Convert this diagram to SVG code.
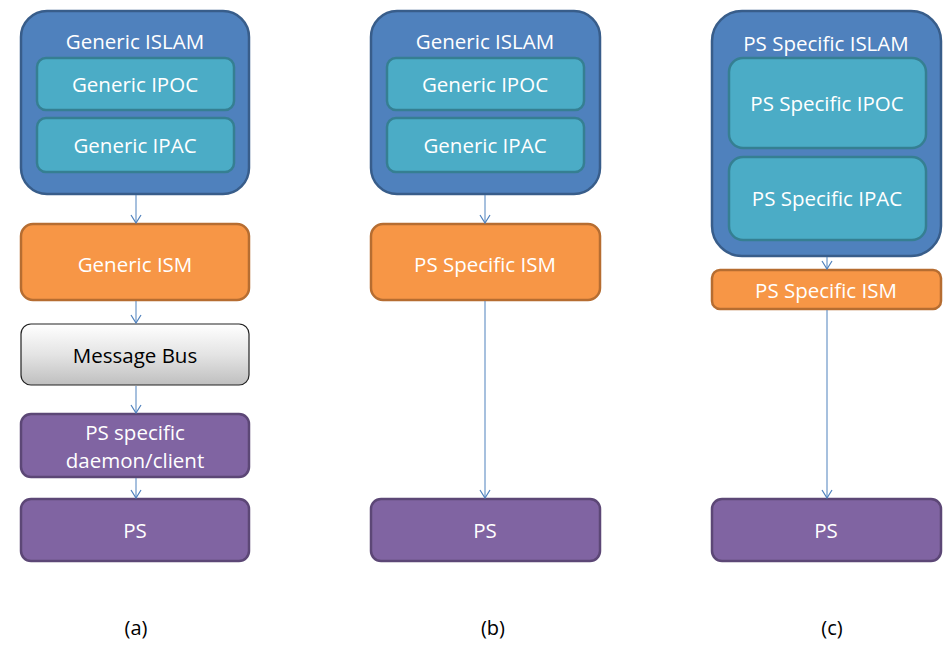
<svg xmlns="http://www.w3.org/2000/svg" width="943" height="649" viewBox="0 0 943 649">
<defs>
<linearGradient id="gbus" x1="0" y1="0" x2="0" y2="1">
<stop offset="0" stop-color="#ffffff"/>
<stop offset="0.5" stop-color="#e4e4e4"/>
<stop offset="1" stop-color="#bfbfbf"/>
</linearGradient>
<marker id="arr" markerWidth="10" markerHeight="12" refX="9" refY="6" orient="auto" markerUnits="userSpaceOnUse" viewBox="0 0 10 12">
<path d="M1,1 L9,6 L1,11" fill="none" stroke="#4F81BD" stroke-width="1.2"/>
</marker>
</defs>
<style>
text{font-family:"Open Sans","Liberation Sans",sans-serif;font-size:20.5px;fill:#fff;text-anchor:middle;dominant-baseline:central}
.islam{fill:#4F81BD;stroke:#385D8A;stroke-width:2.5}
.inner{fill:#4BACC6;stroke:#357F92;stroke-width:2.5}
.ism{fill:#F79646;stroke:#B66D31;stroke-width:2.5}
.ps{fill:#8064A2;stroke:#5C4776;stroke-width:2.5}
.bus{fill:url(#gbus);stroke:#222;stroke-width:1.2}
.dark{fill:#000}
.lbl{fill:#000;font-size:20px}
.con line{stroke:#4F81BD;stroke-width:1;marker-end:url(#arr)}
</style>
<rect width="943" height="649" fill="#fff"/>

<g id="a-islam">
<rect class="islam" x="21" y="11" width="228" height="183" rx="26"/>
<text x="135" y="41">Generic ISLAM</text>
</g>
<g id="a-ipoc"><rect class="inner" x="37" y="58" width="197" height="52" rx="9"/><text x="135" y="84">Generic IPOC</text></g>
<g id="a-ipac"><rect class="inner" x="37" y="118" width="197" height="54" rx="9"/><text x="135" y="145">Generic IPAC</text></g>
<g id="a-ism"><rect class="ism" x="21" y="224" width="228" height="76" rx="12"/><text x="135" y="264">Generic ISM</text></g>
<g id="a-bus"><rect class="bus" x="21" y="324" width="228" height="61" rx="10"/><text class="dark" x="135" y="355">Message Bus</text></g>
<g id="a-daemon"><rect class="ps" x="21" y="414" width="228" height="63" rx="10"/><text x="135" y="432">PS specific</text><text x="135" y="460">daemon/client</text></g>
<g id="a-ps"><rect class="ps" x="21" y="499" width="228" height="62" rx="10"/><text x="135" y="530">PS</text></g>

<g id="b-islam"><rect class="islam" x="371" y="11" width="229" height="183" rx="26"/><text x="485" y="41">Generic ISLAM</text></g>
<g id="b-ipoc"><rect class="inner" x="387" y="58" width="197" height="52" rx="9"/><text x="485" y="84">Generic IPOC</text></g>
<g id="b-ipac"><rect class="inner" x="387" y="118" width="197" height="54" rx="9"/><text x="485" y="145">Generic IPAC</text></g>
<g id="b-ism"><rect class="ism" x="371" y="224" width="229" height="76" rx="12"/><text x="485" y="264">PS Specific ISM</text></g>
<g id="b-ps"><rect class="ps" x="371" y="499" width="229" height="62" rx="10"/><text x="485" y="530">PS</text></g>

<g id="c-islam"><rect class="islam" x="712" y="11" width="229" height="245" rx="30"/><text x="826" y="43">PS Specific ISLAM</text></g>
<g id="c-ipoc"><rect class="inner" x="729" y="58" width="197" height="90" rx="14"/><text x="827" y="103">PS Specific IPOC</text></g>
<g id="c-ipac"><rect class="inner" x="729" y="157" width="197" height="83" rx="14"/><text x="827" y="198">PS Specific IPAC</text></g>
<g id="c-ism"><rect class="ism" x="712" y="270" width="229" height="39" rx="8"/><text x="826" y="290">PS Specific ISM</text></g>
<g id="c-ps"><rect class="ps" x="712" y="499" width="229" height="62" rx="10"/><text x="826" y="530">PS</text></g>

<g class="con" id="connectors">
<line x1="136" y1="195" x2="136" y2="223"/>
<line x1="136" y1="301" x2="136" y2="323"/>
<line x1="136" y1="386" x2="136" y2="413"/>
<line x1="136" y1="478" x2="136" y2="498"/>
<line x1="485" y1="195" x2="485" y2="223"/>
<line x1="485" y1="301" x2="485" y2="498"/>
<line x1="827" y1="257" x2="827" y2="269"/>
<line x1="827" y1="310" x2="827" y2="498"/>
</g>

<g id="captions">
<text class="lbl" x="136" y="627">(a)</text>
<text class="lbl" x="493" y="627">(b)</text>
<text class="lbl" x="832" y="627">(c)</text>
</g>
</svg>
